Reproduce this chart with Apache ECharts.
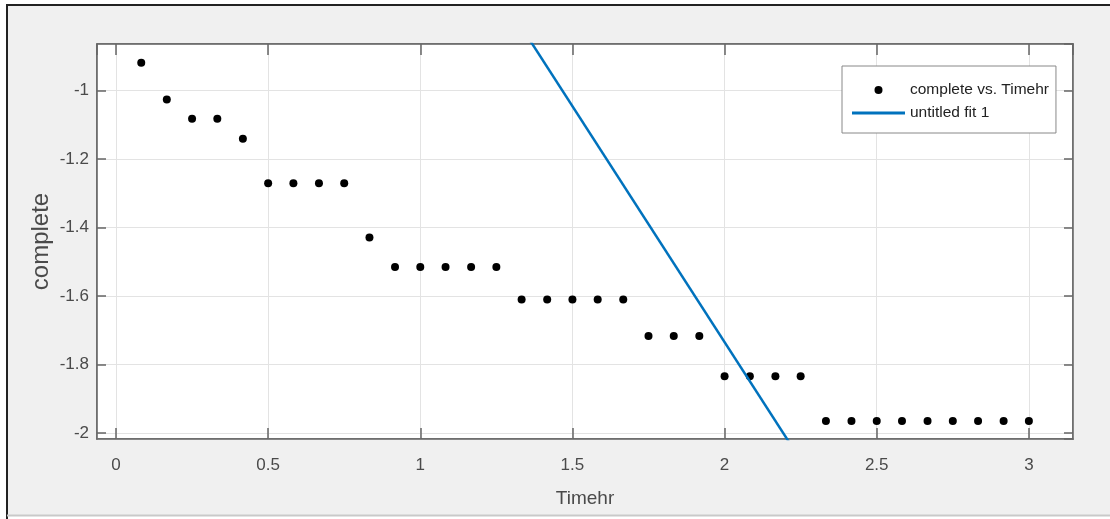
<!DOCTYPE html>
<html>
<head>
<meta charset="utf-8">
<script src="https://cdn.jsdelivr.net/npm/echarts@6/dist/echarts.min.js"></script>
<style>
  html, body { margin: 0; padding: 0; background: #fff; }
  #main { width: 1110px; height: 519px; }
</style>
</head>
<body>
<div id="main"></div>
<script>
// data
var timeHr = [0.083, 0.167, 0.25, 0.333, 0.417, 0.5, 0.583, 0.667, 0.75, 0.833, 0.917, 1.0,
  1.083, 1.167, 1.25, 1.333, 1.417, 1.5, 1.583, 1.667, 1.75, 1.833, 1.917, 2.0,
  2.083, 2.167, 2.25, 2.333, 2.417, 2.5, 2.583, 2.667, 2.75, 2.833, 2.917, 3.0];
var complete = [-0.919, -1.026, -1.082, -1.082, -1.141, -1.271, -1.271, -1.271, -1.271, -1.429,
  -1.515, -1.515, -1.515, -1.515, -1.515, -1.61, -1.61, -1.61, -1.61, -1.61,
  -1.717, -1.717, -1.717, -1.834, -1.834, -1.834, -1.834,
  -1.965, -1.965, -1.965, -1.965, -1.965, -1.965, -1.965, -1.965, -1.965];
var fitX = [1.3, 2.3];
var fitY = [-0.770, -2.148];

var chart = echarts.init(document.getElementById('main'));

var font = '"Liberation Sans", Arial, sans-serif';
var axisGrey = '#666';
var textGrey = '#4a4a4a';

function baseAxis(extra) {
  var a = {
    type: 'value',
    axisLine: { show: true, onZero: false, lineStyle: { color: axisGrey, width: 1.5 } },
    axisTick: { show: true, inside: true, lineStyle: { color: axisGrey, width: 1.5 } },
    splitLine: { show: false },
    axisLabel: { show: false }
  };
  return Object.assign(a, extra);
}

var option = {
  backgroundColor: '#fff',
  animation: false,
  graphic: [
    { type: 'rect', z: -10, silent: true, shape: { x: 7, y: 5, width: 1103, height: 510 }, style: { fill: '#f0f0f0' } },
    { type: 'line', z: -9, silent: true, shape: { x1: 7, y1: 5, x2: 1110, y2: 5 }, style: { stroke: '#222', lineWidth: 2 } },
    { type: 'line', z: -9, silent: true, shape: { x1: 7, y1: 4, x2: 7, y2: 519 }, style: { stroke: '#222', lineWidth: 2 } },
    { type: 'line', z: -9, silent: true, shape: { x1: 7, y1: 515.5, x2: 1110, y2: 515.5 }, style: { stroke: '#c9c9c9', lineWidth: 2 } }
  ],
  grid: {
    left: 97, top: 44, right: 37, bottom: 80,
    show: true, backgroundColor: '#fff', borderColor: axisGrey, borderWidth: 1.5
  },
  legend: {
    left: 842, top: 66,
    orient: 'vertical',
    padding: [15, 7, 11, 10],
    itemGap: 5,
    itemWidth: 53, itemHeight: 8,
    symbolKeepAspect: true,
    backgroundColor: '#fff',
    borderColor: '#888', borderWidth: 1,
    textStyle: { fontFamily: font, fontSize: 15.5, color: '#222', lineHeight: 18 },
    data: [
      { name: 'complete vs. Timehr', icon: 'circle' },
      { name: 'untitled fit 1', icon: 'path://M0,0L53,0L53,3L0,3Z' }
    ]
  },
  xAxis: [
    baseAxis({
      min: -0.0624, max: 3.145, splitNumber: 6,
      position: 'bottom',
      name: 'Timehr', nameLocation: 'middle', nameGap: 50,
      nameMoveOverlap: false,
      nameTextStyle: { fontFamily: font, fontSize: 19, color: textGrey },
      axisTick: { show: true, inside: true, length: 11, lineStyle: { color: axisGrey, width: 1.5 } },
      splitLine: { show: true, lineStyle: { color: '#e3e3e3', width: 1 } },
      axisLabel: {
        show: true, margin: 18, fontFamily: font, fontSize: 17, color: textGrey,
        showMinLabel: false, showMaxLabel: false
      }
    }),
    baseAxis({
      min: -0.0624, max: 3.145, splitNumber: 6, position: 'top',
      axisTick: { show: true, inside: true, length: 11, lineStyle: { color: axisGrey, width: 1.5 } }
    })
  ],
  yAxis: [
    baseAxis({
      min: -2.0175, max: -0.864, splitNumber: 5,
      position: 'left',
      name: 'complete', nameLocation: 'middle', nameGap: 44,
      nameMoveOverlap: false,
      nameTextStyle: { fontFamily: font, fontSize: 24, color: textGrey },
      axisTick: { show: true, inside: true, length: 9, lineStyle: { color: axisGrey, width: 1.5 } },
      splitLine: { show: true, lineStyle: { color: '#e3e3e3', width: 1 } },
      axisLabel: {
        show: true, margin: 8, fontFamily: font, fontSize: 17, color: textGrey,
        showMinLabel: false, showMaxLabel: false
      }
    }),
    baseAxis({
      min: -2.0175, max: -0.864, splitNumber: 5, position: 'right',
      axisTick: { show: true, inside: true, length: 9, lineStyle: { color: axisGrey, width: 1.5 } }
    })
  ],
  series: [
    {
      name: 'complete vs. Timehr',
      type: 'scatter',
      symbol: 'circle',
      symbolSize: 8,
      itemStyle: { color: '#000', opacity: 1 },
      data: timeHr.map(function (t, i) { return [t, complete[i]]; })
    },
    {
      name: 'untitled fit 1',
      type: 'line',
      showSymbol: false,
      symbol: 'none',
      clip: true,
      itemStyle: { color: '#0072BD' },
      lineStyle: { color: '#0072BD', width: 2.5 },
      data: fitX.map(function (t, i) { return [t, fitY[i]]; })
    }
  ]
};

chart.setOption(option);
</script>
</body>
</html>
